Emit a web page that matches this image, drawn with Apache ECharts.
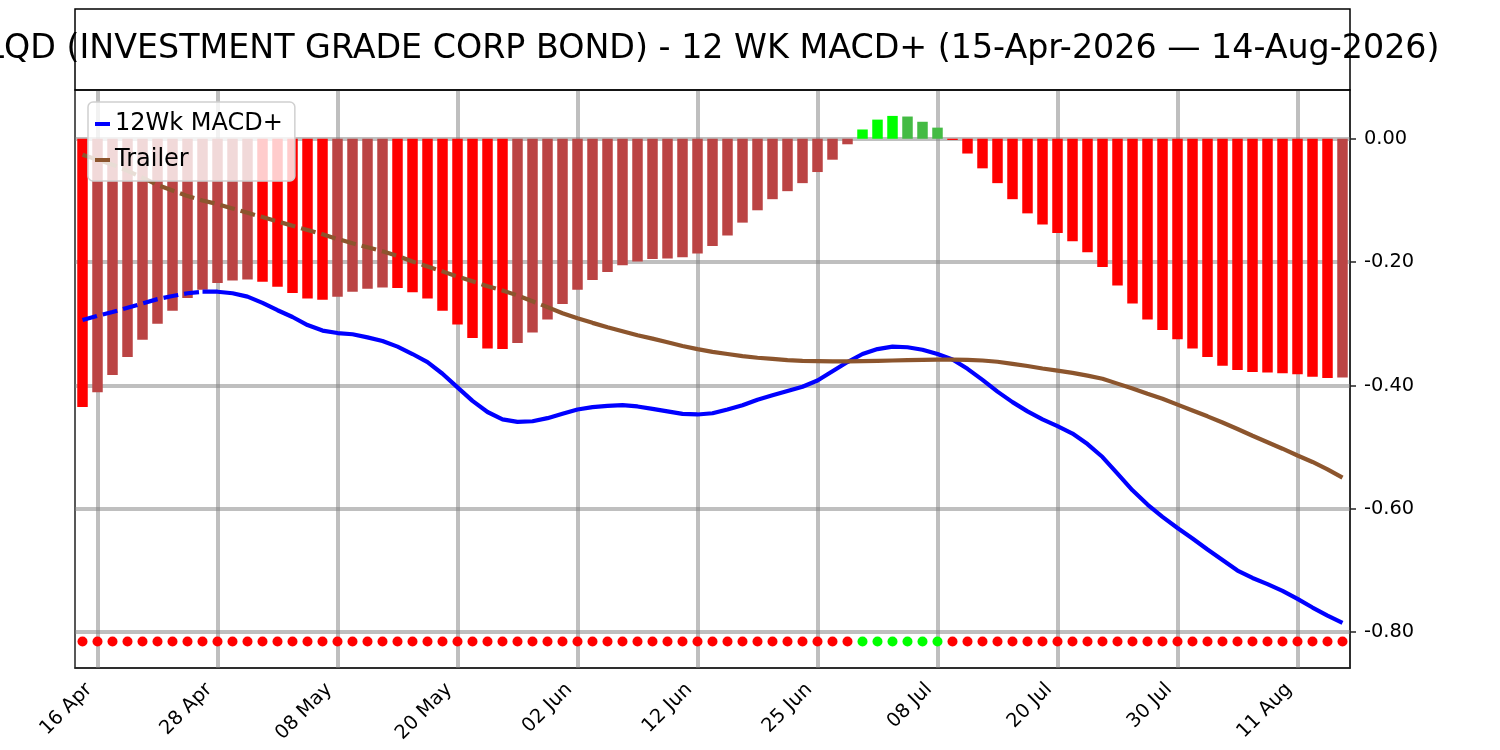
<!DOCTYPE html>
<html lang="en">
<head>
  <meta charset="UTF-8">
  <title>LQD 12 WK MACD+</title>
  <script src="https://cdn.jsdelivr.net/npm/echarts@6.0.0/dist/echarts.min.js"></script>
  <style type="text/css">
    html, body { margin: 0; padding: 0; background: #ffffff; }
    #chart { width: 1500px; height: 750px; }
  </style>
</head>
<body>
<div id="chart"></div>
<script type="text/javascript">
// trading days 15-Apr-2026 .. 14-Aug-2026
var dates = [
  '15 Apr','16 Apr','17 Apr','20 Apr','21 Apr','22 Apr','23 Apr','24 Apr','27 Apr','28 Apr','29 Apr','30 Apr',
  '01 May','04 May','05 May','06 May','07 May','08 May','11 May','12 May','13 May','14 May','15 May','18 May',
  '19 May','20 May','21 May','22 May','26 May','27 May','28 May','29 May',
  '01 Jun','02 Jun','03 Jun','04 Jun','05 Jun','08 Jun','09 Jun','10 Jun','11 Jun','12 Jun','15 Jun','16 Jun',
  '17 Jun','18 Jun','22 Jun','23 Jun','24 Jun','25 Jun','26 Jun','29 Jun','30 Jun',
  '01 Jul','02 Jul','06 Jul','07 Jul','08 Jul','09 Jul','10 Jul','13 Jul','14 Jul','15 Jul','16 Jul','17 Jul',
  '20 Jul','21 Jul','22 Jul','23 Jul','24 Jul','27 Jul','28 Jul','29 Jul','30 Jul','31 Jul',
  '03 Aug','04 Aug','05 Aug','06 Aug','07 Aug','10 Aug','11 Aug','12 Aug','13 Aug','14 Aug'
];
var tickLabels = ['16 Apr','28 Apr','08 May','20 May','02 Jun','12 Jun','25 Jun','08 Jul','20 Jul','30 Jul','11 Aug'];
var yTicks = [-0.8, -0.6, -0.4, -0.2, 0];

// histogram
var hist = [
  -0.435,-0.411,-0.383,-0.354,-0.326,-0.300,-0.279,-0.258,-0.245,-0.234,-0.230,-0.228,
  -0.232,-0.240,-0.250,-0.259,-0.261,-0.256,-0.248,-0.243,-0.241,-0.242,-0.249,-0.259,
  -0.279,-0.301,-0.323,-0.340,-0.341,-0.331,-0.314,-0.293,-0.268,-0.245,-0.229,-0.216,
  -0.205,-0.199,-0.195,-0.194,-0.192,-0.186,-0.174,-0.157,-0.136,-0.116,-0.098,-0.085,
  -0.072,-0.054,-0.034,-0.009,0.015,0.031,0.037,0.036,0.0275,0.018,-0.002,-0.024,
  -0.048,-0.072,-0.098,-0.121,-0.139,-0.153,-0.166,-0.184,-0.208,-0.238,-0.267,-0.293,
  -0.310,-0.325,-0.340,-0.354,-0.368,-0.375,-0.378,-0.379,-0.380,-0.382,-0.386,-0.388,-0.387
];
// 12Wk MACD+
var macd = [
  -0.294,-0.287,-0.281,-0.274,-0.267,-0.260,-0.255,-0.2505,-0.248,-0.248,-0.2505,-0.256,
  -0.266,-0.278,-0.289,-0.302,-0.311,-0.315,-0.317,-0.322,-0.328,-0.337,-0.349,-0.362,
  -0.381,-0.403,-0.425,-0.443,-0.455,-0.459,-0.458,-0.453,-0.446,-0.439,-0.435,-0.433,
  -0.432,-0.434,-0.438,-0.442,-0.446,-0.447,-0.445,-0.439,-0.432,-0.423,-0.416,-0.409,
  -0.402,-0.392,-0.377,-0.362,-0.349,-0.341,-0.337,-0.338,-0.342,-0.349,-0.358,-0.373,
  -0.391,-0.410,-0.427,-0.442,-0.455,-0.466,-0.478,-0.495,-0.516,-0.543,-0.570,-0.593,
  -0.613,-0.631,-0.648,-0.666,-0.683,-0.700,-0.712,-0.722,-0.733,-0.746,-0.760,-0.773,-0.785
];
// Trailer
var trailer = [
  -0.026,-0.034,-0.042,-0.052,-0.063,-0.075,-0.084,-0.093,-0.100,-0.106,-0.113,-0.120,
  -0.127,-0.134,-0.141,-0.148,-0.155,-0.1625,-0.1695,-0.176,-0.1825,-0.190,-0.199,-0.207,
  -0.215,-0.2235,-0.231,-0.239,-0.246,-0.254,-0.2635,-0.273,-0.283,-0.291,-0.2985,-0.3055,
  -0.312,-0.3185,-0.324,-0.330,-0.336,-0.341,-0.3455,-0.349,-0.3525,-0.355,-0.357,-0.359,
  -0.360,-0.3605,-0.361,-0.361,-0.3605,-0.360,-0.3595,-0.359,-0.3585,-0.358,-0.358,-0.3585,
  -0.3595,-0.3615,-0.365,-0.3685,-0.3725,-0.376,-0.3795,-0.384,-0.389,-0.397,-0.405,-0.4135,
  -0.4215,-0.431,-0.4405,-0.450,-0.460,-0.4705,-0.4815,-0.492,-0.5025,-0.5135,-0.524,-0.536,-0.5495
];
var dotLevel = -0.815;
var macdDashEnd = 8;     // last index of the dashed part
var trailerDashEnd = 31;

var FONT = 'DejaVu Sans';
var isTick = function (i) { return tickLabels.indexOf(dates[i]) >= 0; };

function barColor(i) {
  var v = hist[i], p = i > 0 ? hist[i - 1] : null;
  if (v >= 0) { return (p !== null && v < p) ? '#44bb44' : '#00ff00'; }
  return (p !== null && v > p) ? '#bb4444' : '#ff0000';
}

var gridLines = [];
tickLabels.forEach(function (d) { gridLines.push({xAxis: d}); });
yTicks.forEach(function (v) { gridLines.push({yAxis: v}); });

var myChart = echarts.init(document.getElementById('chart'));
var option = {
  animation: false,
  textStyle: {fontFamily: FONT},
  graphic: [
    {
      type: 'text', x: 712.5, y: 49, z: 10,
      style: {
        text: 'LQD (INVESTMENT GRADE CORP BOND) - 12 WK MACD+ (15-Apr-2026 \u2014 14-Aug-2026)',
        fontSize: 33.3, fontFamily: FONT, fill: '#000',
        textAlign: 'center', textVerticalAlign: 'middle'
      }
    },
    {
      type: 'rect', z: 11,
      shape: {x: 75, y: 9, width: 1275, height: 81},
      style: {fill: 'none', stroke: '#000', lineWidth: 1.5}
    }
  ],
  legend: {
    orient: 'vertical', left: 88, top: 102, z: 6,
    itemWidth: 15, itemHeight: 4, itemGap: 12,
    padding: [10, 12, 9, 7],
    backgroundColor: 'rgba(255,255,255,0.8)',
    borderColor: '#d0d0d0', borderWidth: 1.5, borderRadius: 5,
    textStyle: {fontSize: 24, color: '#000', fontFamily: FONT},
    data: [{name: '12Wk MACD+', icon: 'rect'}, {name: 'Trailer', icon: 'rect'}]
  },
  grid: {
    left: 75, right: 150, top: 90, bottom: 82,
    show: true, borderColor: '#222', borderWidth: 1.5,
    containLabel: false, outerBoundsMode: 'none'
  },
  xAxis: {
    type: 'category', data: dates, boundaryGap: true,
    axisLine: {onZero: false, lineStyle: {color: '#222', width: 1.5}},
    axisTick: {alignWithLabel: true, interval: isTick, length: 6, lineStyle: {color: '#222', width: 1.5}},
    axisLabel: {
      interval: isTick, rotate: 45, fontSize: 19.4, color: '#000', fontFamily: FONT,
      margin: 10, padding: [0, 12, 0, 0]
    },
    splitLine: {show: false}
  },
  yAxis: {
    type: 'value', position: 'right', min: -0.858, max: 0.079,
    axisLine: {show: true, lineStyle: {color: '#222', width: 1.5}},
    axisTick: {show: true, length: 6, customValues: yTicks, lineStyle: {color: '#222', width: 1.5}},
    axisLabel: {
      customValues: yTicks, fontSize: 19.4, color: '#000', fontFamily: FONT, margin: 14,
      formatter: function (v) { return v.toFixed(2); }
    },
    splitLine: {show: false}
  },
  series: [
    {
      name: 'hist', type: 'bar', z: 2, silent: true, barWidth: '70%',
      data: hist.map(function (v, i) { return {value: v, itemStyle: {color: barColor(i)}}; }),
      markLine: {
        silent: true, z: 1, animation: false, symbol: ['none', 'none'],
        label: {show: false},
        lineStyle: {color: 'rgba(128,128,128,0.5)', width: 4, type: 'solid'},
        emphasis: {disabled: true},
        data: gridLines
      }
    },
    {
      name: 'signal', type: 'scatter', z: 3, silent: true, symbolSize: 10,
      itemStyle: {opacity: 1},
      data: hist.map(function (v) {
        return {value: dotLevel, itemStyle: {color: v > 0 ? '#00ff00' : '#ff0000', opacity: 1}};
      })
    },
    {
      name: '12Wk MACD+', type: 'line', z: 3, silent: true, showSymbol: false, symbol: 'none',
      itemStyle: {color: '#0000ff'},
      lineStyle: {color: '#0000ff', width: 4.2, type: [15, 6]},
      data: macd.map(function (v, i) { return i <= macdDashEnd ? v : null; })
    },
    {
      name: '12Wk MACD+', type: 'line', z: 3, silent: true, showSymbol: false, symbol: 'none',
      itemStyle: {color: '#0000ff'},
      lineStyle: {color: '#0000ff', width: 4.2},
      data: macd.map(function (v, i) { return i >= macdDashEnd ? v : null; })
    },
    {
      name: 'Trailer', type: 'line', z: 3, silent: true, showSymbol: false, symbol: 'none',
      itemStyle: {color: '#8c552d'},
      lineStyle: {color: '#8c552d', width: 4.2, type: [15, 6]},
      data: trailer.map(function (v, i) { return i <= trailerDashEnd ? v : null; })
    },
    {
      name: 'Trailer', type: 'line', z: 3, silent: true, showSymbol: false, symbol: 'none',
      itemStyle: {color: '#8c552d'},
      lineStyle: {color: '#8c552d', width: 4.2},
      data: trailer.map(function (v, i) { return i >= trailerDashEnd ? v : null; })
    }
  ]
};
myChart.setOption(option);
</script>
</body>
</html>
